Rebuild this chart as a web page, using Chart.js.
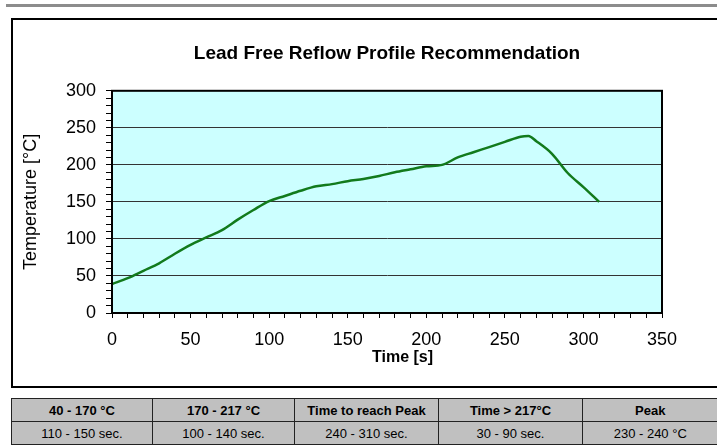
<!DOCTYPE html>
<html>
<head>
<meta charset="utf-8">
<script src="https://cdn.jsdelivr.net/npm/chart.js@4.4.0/dist/chart.umd.min.js"></script>
<style>
    html, body { margin: 0; padding: 0; background: #fff; overflow: hidden; }
    body { width: 717px; height: 448px; position: relative; font-family: 'Liberation Sans', Arial, sans-serif; }
    .topline { position: absolute; left: 6px; top: 4px; width: 711px; height: 3px; background: #8c8c8c; }
    .frame { position: absolute; left: 11px; top: 18px; width: 704px; height: 366px; border: 2px solid #000; border-right: none; }
    #chartWrap { position: absolute; left: 0; top: 0; width: 717px; height: 390px; }
    table.spec { position: absolute; left: 11px; top: 398px; width: 706px; border-collapse: collapse; table-layout: fixed; }
    table.spec td { background: #c0c0c0; border: 1.5px solid #222; height: 22px; padding: 0; text-align: center; font-size: 13px; color: #000; white-space: nowrap; overflow: hidden; }
    table.spec td:last-child { border-right: none; }
    table.spec tr.head td { font-weight: bold; }
</style>
</head>
<body>
<div class="topline"></div>
<div class="frame"></div>
<div id="chartWrap"><canvas id="reflowChart"></canvas></div>
<table class="spec">
    <colgroup><col style="width:141px"><col style="width:142px"><col style="width:144px"><col style="width:144px"><col style="width:135px"></colgroup>
    <tr class="head" id="headRow"></tr>
    <tr id="valueRow"></tr>
</table>
<script>
// Profile (time in s, temperature in °C)
const times = [0, 10, 20, 30, 40, 50, 60, 70, 80, 90, 100, 110, 120, 130, 140, 150, 160, 170, 180, 190, 200, 210, 220, 230, 240, 250, 260, 265, 270, 280, 290, 300, 310];
const temps = [39, 47, 57, 67, 80, 92, 102, 112, 126, 139, 151, 158, 165, 171, 174, 178, 181, 185, 190, 194, 198, 200, 210, 217, 224, 231, 238, 239, 232, 215, 189, 170, 150];

const xTicks = [0, 50, 100, 150, 200, 250, 300, 350];
const yTicks = [0, 50, 100, 150, 200, 250, 300];

const tableHeads = ['40 - 170 °C', '170 - 217 °C', 'Time to reach Peak', 'Time > 217°C', 'Peak'];
const tableValues = ['110 - 150 sec.', '100 - 140 sec.', '240 - 310 sec.', '30 - 90 sec.', '230 - 240 °C'];

document.addEventListener('DOMContentLoaded', function () {
    fillTable();
    initReflowChart();
});

function fillTable() {
    const head = document.getElementById('headRow');
    const vals = document.getElementById('valueRow');
    tableHeads.forEach(t => {
        const td = document.createElement('td');
        td.textContent = t;
        head.appendChild(td);
    });
    tableValues.forEach(t => {
        const td = document.createElement('td');
        td.textContent = t;
        vals.appendChild(td);
    });
}

// paints the cyan plot background and the black frame around it
const plotFrame = {
    id: 'plotFrame',
    beforeDraw(chart) {
        const { ctx, chartArea: a } = chart;
        ctx.save();
        ctx.fillStyle = '#ccffff';
        ctx.fillRect(a.left, a.top, a.right - a.left, a.bottom - a.top);
        ctx.restore();
    },
    afterDatasetsDraw(chart) {
        const { ctx, chartArea: a } = chart;
        ctx.save();
        ctx.strokeStyle = '#000';
        ctx.lineWidth = 2;
        ctx.strokeRect(a.left, a.top, a.right - a.left, a.bottom - a.top);
        ctx.restore();
    }
};

function initReflowChart() {
    const ctx = document.getElementById('reflowChart').getContext('2d');
    const font = 'Liberation Sans';

    new Chart(ctx, {
        type: 'line',
        data: {
            datasets: [{
                label: 'Profile',
                data: times.map((t, i) => ({ x: t, y: temps[i] })),
                borderColor: '#127a1c',
                borderWidth: 2.5,
                pointRadius: 0,
                fill: false,
                cubicInterpolationMode: 'monotone'
            }]
        },
        options: {
            responsive: true,
            maintainAspectRatio: false,
            animation: false,
            layout: {
                padding: { left: 0, right: 55, top: 0, bottom: 0 }
            },
            plugins: {
                legend: { display: false },
                tooltip: { enabled: false },
                title: {
                    display: true,
                    fullSize: false,
                    text: 'Lead Free Reflow Profile Recommendation',
                    color: '#000',
                    font: { family: font, size: 19, weight: 'bold' },
                    padding: { top: 42, bottom: 26 }
                }
            },
            scales: {
                x: {
                    type: 'linear',
                    min: 0,
                    max: 350,
                    afterFit: s => { s.height = 77; },
                    afterBuildTicks: s => { s.ticks = []; for (let v = 0; v <= 350; v += 10) s.ticks.push({ value: v }); },
                    grid: {
                        drawOnChartArea: false,
                        tickLength: 5,
                        tickColor: '#000'
                    },
                    border: { display: true, color: '#000', width: 2 },
                    ticks: {
                        autoSkip: false,
                        maxRotation: 0,
                        padding: 11,
                        color: '#000',
                        font: { family: font, size: 18 },
                        callback: v => xTicks.includes(v) ? v : ''
                    },
                    title: {
                        display: true,
                        text: '       Time [s]',
                        color: '#000',
                        font: { family: font, size: 16, weight: 'bold' },
                        padding: { top: 0, bottom: 23 }
                    }
                },
                y: {
                    type: 'linear',
                    min: 0,
                    max: 300,
                    afterFit: s => { s.width = 112; },
                    afterBuildTicks: s => { s.ticks = []; for (let v = 0; v <= 300; v += 10) s.ticks.push({ value: v }); },
                    grid: {
                        color: c => (c.tick && yTicks.includes(c.tick.value)) ? '#333' : 'rgba(0,0,0,0)',
                        tickColor: '#000',
                        tickLength: 6,
                        lineWidth: 1
                    },
                    border: { display: true, color: '#000', width: 2 },
                    ticks: {
                        autoSkip: false,
                        padding: 10,
                        color: '#000',
                        font: { family: font, size: 18 },
                        callback: v => yTicks.includes(v) ? v : ''
                    },
                    title: {
                        display: true,
                        text: 'Temperature [°C]',
                        color: '#000',
                        font: { family: font, size: 18 },
                        padding: { top: 20, bottom: 0 }
                    }
                }
            }
        },
        plugins: [plotFrame]
    });
}
</script>
</body>
</html>
